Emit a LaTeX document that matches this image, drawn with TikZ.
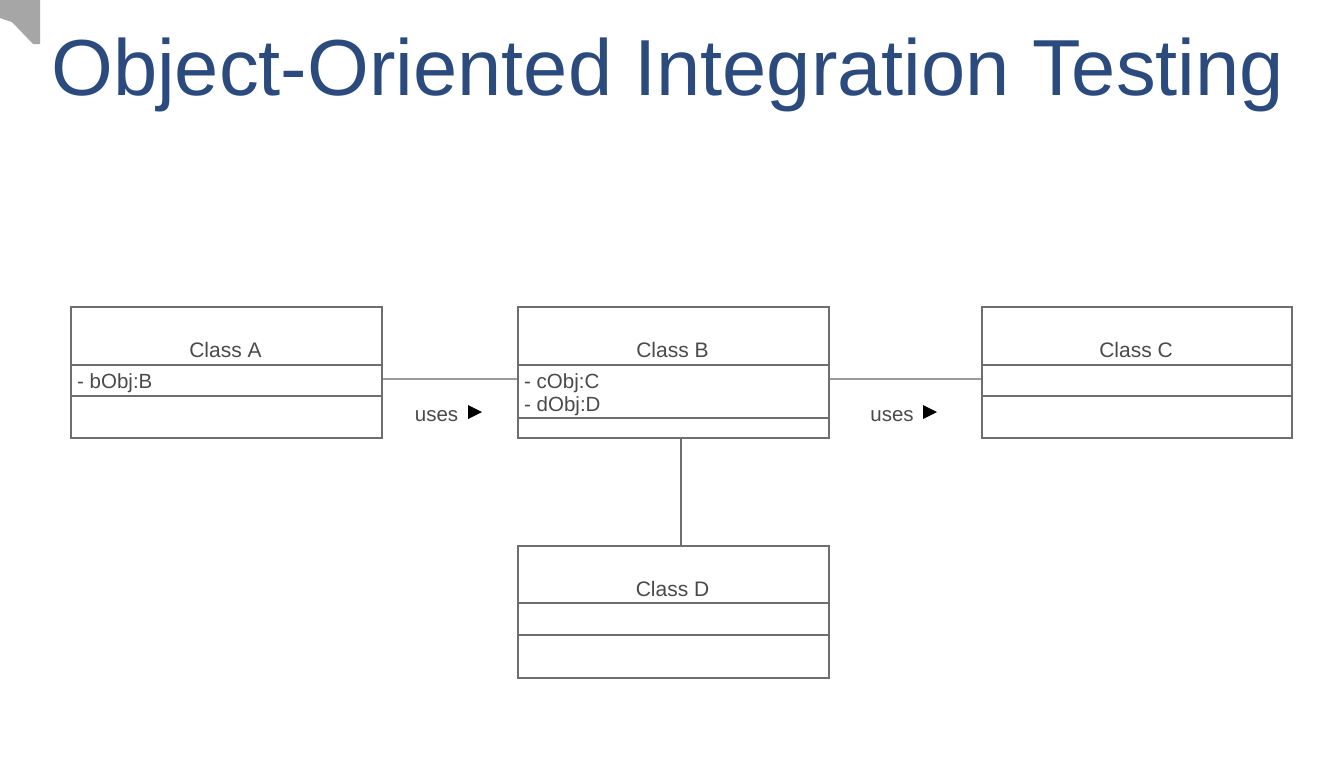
\documentclass[tikz,border=0pt]{standalone}
\usepackage{fontspec}
\setmainfont{Liberation Sans}
\definecolor{titleblue}{HTML}{2B4A7E}
\definecolor{boxline}{HTML}{6E6E6E}
\definecolor{conline}{HTML}{9A9A9A}
\definecolor{txtgray}{HTML}{4A4A4A}
\begin{document}
\begin{tikzpicture}[x=1pt,y=-1pt,
  boxpart/.style={draw=boxline,line width=1.8pt},
  divider/.style={draw=boxline,line width=1.5pt},
  conn/.style={draw=conline,line width=1.6pt},
  cname/.style={font=\fontsize{21}{23}\selectfont,text=txtgray,anchor=base},
  attr/.style={font=\fontsize{20.5}{23}\selectfont,text=txtgray,anchor=base west,inner sep=0pt},
  lbl/.style={font=\fontsize{20.5}{23}\selectfont,text=txtgray,anchor=base,inner sep=0pt}]
\useasboundingbox (0,0) rectangle (1336,772);
\fill[white] (0,0) rectangle (1336,772);
% corner icon
\fill[gray!70] (0,0) -- (40,0) -- (40,44) -- (33,44) -- (12,22) -- (0,18) -- cycle;
% title
\node[anchor=base west,inner sep=0pt,text=titleblue,font=\fontsize{79.5}{88}\selectfont] (title) at (51,95) {Object-Oriented Integration Testing};
% Class A
\node[boxpart,minimum width=311pt,minimum height=131pt,anchor=north west,inner sep=0pt] (A) at (70,306) {};
\draw[divider] (70,365) -- (381,365) (70,396) -- (381,396);
\node[cname] (An) at (225.5,357) {Class A};
\node[attr] (Aa) at (77,388) {- bObj:B};
% Class B
\node[boxpart,minimum width=311pt,minimum height=131pt,anchor=north west,inner sep=0pt] (B) at (517,306) {};
\draw[divider] (517,365) -- (828,365) (517,418) -- (828,418);
\node[cname] (Bn) at (672.5,357) {Class B};
\node[attr] (Ba1) at (524,388) {- cObj:C};
\node[attr] (Ba2) at (524,411) {- dObj:D};
% Class C
\node[boxpart,minimum width=310pt,minimum height=131pt,anchor=north west,inner sep=0pt] (C) at (981,306) {};
\draw[divider] (981,365) -- (1291,365) (981,396) -- (1291,396);
\node[cname] (Cn) at (1136,357) {Class C};
% Class D
\node[boxpart,minimum width=311pt,minimum height=132pt,anchor=north west,inner sep=0pt] (D) at (517,545) {};
\draw[divider] (517,603) -- (828,603) (517,635) -- (828,635);
\node[cname] (Dn) at (672.5,596) {Class D};
% connectors
\coordinate (ab1) at (A.east |- 0,379);
\coordinate (ab2) at (B.west |- 0,379);
\draw[conn] (ab1) -- (ab2);
\coordinate (bc1) at (B.east |- 0,379);
\coordinate (bc2) at (C.west |- 0,379);
\draw[conn] (bc1) -- (bc2);
\coordinate (bd1) at (681,437);
\coordinate (bd2) at (681,545);
\draw[draw=boxline,line width=1.6pt] (bd1) -- (bd2);
\node[lbl] (u1) at (436.5,421) {uses};
\fill[black] (468,405) -- (482,412) -- (468,419) -- cycle;
\node[lbl] (u2) at (892,421) {uses};
\fill[black] (923,405) -- (937,412) -- (923,419) -- cycle;
\end{tikzpicture}
\end{document}
